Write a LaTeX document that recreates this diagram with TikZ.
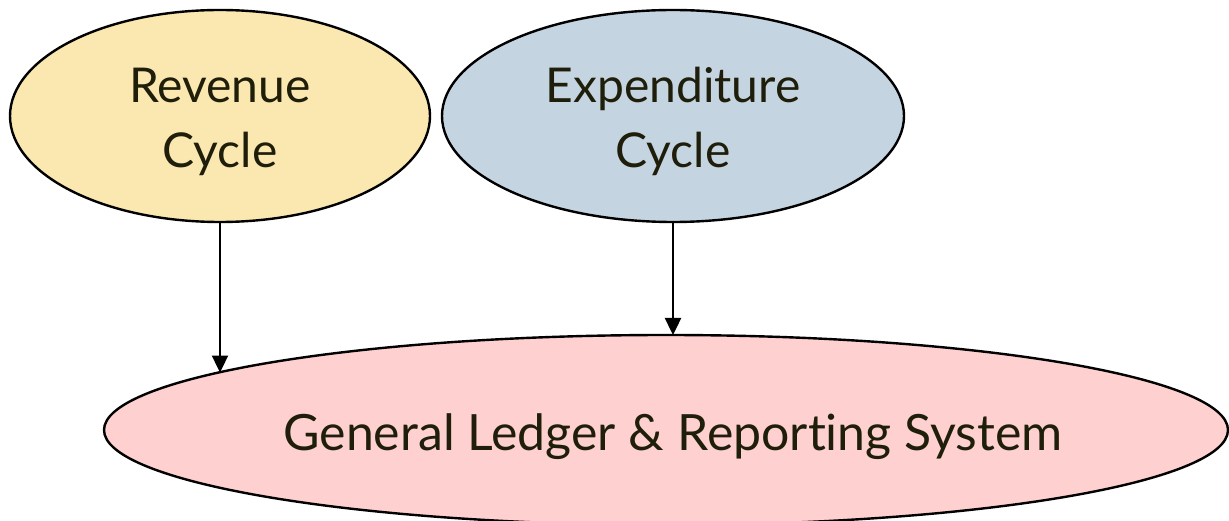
\documentclass[tikz,border=0pt]{standalone}
\usepackage{fontspec}
\setmainfont{Lato}[Ligatures={NoCommon,NoRequired,NoContextual,NoDiscretionary}]
\usetikzlibrary{shapes.geometric,arrows.meta}
\definecolor{revfill}{RGB}{250,232,176}
\definecolor{expfill}{RGB}{197,212,225}
\definecolor{glfill}{RGB}{255,208,208}
\definecolor{txt}{RGB}{30,30,10}
\tikzset{
  cyc/.style={ellipse, draw=black, line width=2.4pt, inner sep=0pt},
  lbl/.style={text=txt, font=\fontsize{48}{60}\selectfont, anchor=base, inner sep=0pt},
  conn/.style={line width=2.4pt, -{Triangle[length=17pt,width=16pt]}}
}
\begin{document}
\begin{tikzpicture}[x=1pt,y=-1pt]
\useasboundingbox (0,0) rectangle (1229,521);
\node[cyc, fill=revfill, minimum width=420pt, minimum height=212pt] (rev) at (220,116) {};
\node[cyc, fill=expfill, minimum width=462pt, minimum height=212pt] (exp) at (673,116) {};
\node[cyc, fill=glfill, minimum width=1124pt, minimum height=190pt] (gl) at (666,430) {};
\node[lbl] (rev1) at (220,103) {Revenue};
\node[lbl] (rev2) at (220,168) {Cycle};
\node[lbl] (exp1) at (673,103) {Expenditure};
\node[lbl] (exp2) at (673,168) {Cycle};
\node[lbl, font=\fontsize{50}{60}\selectfont] (gltext) at (673,450) {General Ledger \& Reporting System};
\coordinate (t1) at (220,372.5);
\coordinate (t2) at (673,335);
\draw[conn] (rev.south) -- (t1);
\draw[conn] (exp.south) -- (t2);
\end{tikzpicture}
\end{document}
